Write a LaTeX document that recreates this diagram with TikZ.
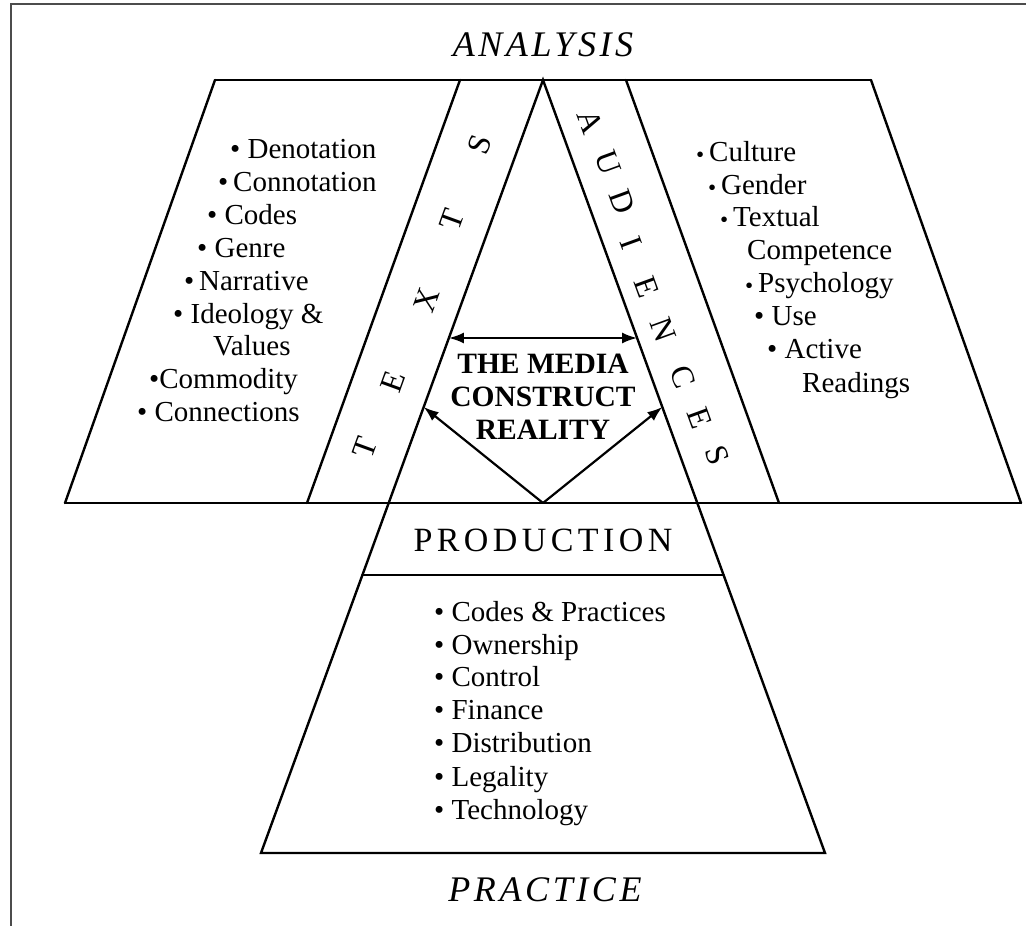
\documentclass[tikz,border=0pt]{standalone}
\usepackage{fontspec}
\usepackage{graphicx}
\setmainfont{Liberation Serif}
\usetikzlibrary{arrows.meta}

% small dot used as a bullet in the audience list
\newcommand{\lowbul}{\raisebox{-0.06em}{\scalebox{0.8}{•}}}

\begin{document}
\begin{tikzpicture}[x=1pt,y=-1pt,
  edge/.style={line width=2.4pt, line join=miter, line cap=round},
  frameline/.style={line width=1.6pt, draw=black!70},
  link/.style={line width=2.2pt, -{Latex[length=15pt,width=11pt]}},
  twoway/.style={line width=2.2pt, {Latex[length=15pt,width=11pt]}-{Latex[length=15pt,width=11pt]}},
  item/.style={anchor=base west, inner sep=0pt, font=\fontsize{29}{33}\selectfont},
  heading/.style={inner sep=0pt, font=\fontsize{36}{40}\selectfont\itshape\addfontfeature{LetterSpace=10}},
  bandletter/.style={inner sep=0pt, font=\fontsize{32}{36}\selectfont}
]
\useasboundingbox (0,0) rectangle (1026,926);

% outer frame (top and left)
\draw[frameline] (11,926) -- (11,4) -- (1026,4);

% key points of the figure
\coordinate (apex) at (543,80);
\coordinate (tl) at (215,80);
\coordinate (tr) at (871,80);
\coordinate (bl) at (65,503);
\coordinate (br) at (1021,503);
\coordinate (b1t) at (460,80);
\coordinate (b1b) at (307,503);
\coordinate (b2t) at (626,80);
\coordinate (b2b) at (779,503);
\coordinate (pl) at (261,853);
\coordinate (pr) at (825,853);
\coordinate (dl) at (362.4,575);
\coordinate (dr) at (723.6,575);
\coordinate (hub) at (543,503);
\coordinate (lt) at (423.7,407);
\coordinate (rt) at (662.3,407);
\coordinate (hl) at (448.9,338);
\coordinate (hr) at (637.1,338);

% analysis band: two parallelograms split by the triangle
\draw[edge] (tl) -- (tr);
\draw[edge] (bl) -- (br);
\draw[edge] (tl) -- (bl);
\draw[edge] (tr) -- (br);
\draw[edge] (b1t) -- (b1b);
\draw[edge] (b2t) -- (b2b);

% central triangle with the production band
\draw[edge] (pl) -- (apex) -- (pr) -- cycle;
\draw[edge] (dl) -- (dr);

% arrows
\draw[twoway] (hl) -- (hr);
\draw[link] (hub) -- (lt);
\draw[link] (hub) -- (rt);

% headings
\node[heading] (analysis) at (543,45) {ANALYSIS};
\node[heading] (practice) at (545,890) {PRACTICE};
\node[inner sep=0pt, font=\fontsize{34}{38}\selectfont\addfontfeature{LetterSpace=13}] (production) at (543,540) {PRODUCTION};

% centre statement
\node[align=center, inner sep=0pt, font=\fontsize{29.5}{33}\selectfont\bfseries] (media) at (543,397)
  {THE MEDIA\\CONSTRUCT\\REALITY};

% TEXTS along the left band
\node[bandletter, rotate=70] (t1) at (365,448) {T};
\node[bandletter, rotate=70] (t2) at (393,382) {E};
\node[bandletter, rotate=70] (t3) at (427,300) {X};
\node[bandletter, rotate=70] (t4) at (452,220) {T};
\node[bandletter, rotate=70] (t5) at (480,145) {S};

% AUDIENCES along the right band
\node[bandletter, rotate=-70] (a1) at (590,122) {A};
\node[bandletter, rotate=-70] (a2) at (608,163) {U};
\node[bandletter, rotate=-70] (a3) at (622,202) {D};
\node[bandletter, rotate=-70] (a4) at (631,243) {I};
\node[bandletter, rotate=-70] (a5) at (647,287) {E};
\node[bandletter, rotate=-70] (a6) at (663,330) {N};
\node[bandletter, rotate=-70] (a7) at (683,377) {C};
\node[bandletter, rotate=-70] (a8) at (700,418) {E};
\node[bandletter, rotate=-70] (a9) at (717,455) {S};

% text items
\node[item] (l1) at (230,158) {• Denotation};
\node[item] (l2) at (218,191) {•\,Connotation};
\node[item] (l3) at (207,224) {• Codes};
\node[item] (l4) at (197,257) {• Genre};
\node[item] (l5) at (184,290) {•\,Narrative};
\node[item] (l6) at (173,323) {• Ideology \&};
\node[item] (l7) at (213,355) {Values};
\node[item] (l8) at (149,388) {•Commodity};
\node[item] (l9) at (137,421) {• Connections};

% audience items
\node[item] (r1) at (696,161) {\lowbul\,Culture};
\node[item] (r2) at (708,194) {\lowbul\,Gender};
\node[item] (r3) at (720,226) {\lowbul\,Textual};
\node[item] (r4) at (747,259) {Competence};
\node[item] (r5) at (745,292) {\lowbul\,Psychology};
\node[item] (r6) at (754,325) {• Use};
\node[item] (r7) at (767,358) {• Active};
\node[item] (r8) at (802,392) {Readings};

% production items
\node[item] (p1) at (434,621) {• Codes \& Practices};
\node[item] (p2) at (434,654) {• Ownership};
\node[item] (p3) at (434,686) {• Control};
\node[item] (p4) at (434,719) {• Finance};
\node[item] (p5) at (434,752) {• Distribution};
\node[item] (p6) at (434,786) {• Legality};
\node[item] (p7) at (434,819) {• Technology};

\end{tikzpicture}
\end{document}
